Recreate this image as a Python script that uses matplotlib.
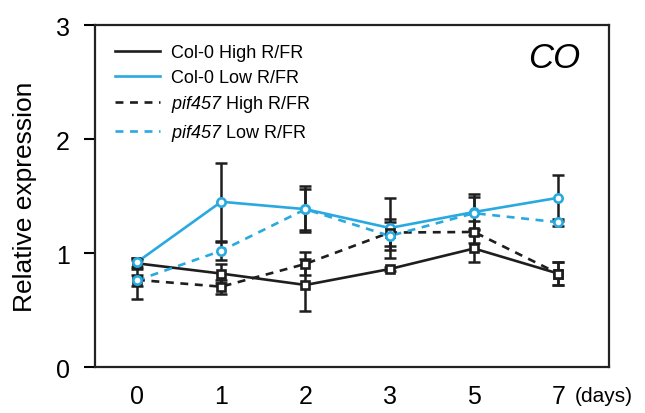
import matplotlib.pyplot as plt
import numpy as np

plt.rcParams['font.family'] = ['Liberation Sans', 'DejaVu Sans']
plt.rcParams['mathtext.fontset'] = 'custom'
plt.rcParams['mathtext.it'] = 'Liberation Sans:italic'
plt.rcParams['mathtext.rm'] = 'Liberation Sans:italic'

days = ['0', '1', '2', '3', '5', '7']

col_high = [0.91, 0.82, 0.72, 0.86, 1.04, 0.82]
col_high_err = [0.05, 0.08, 0.23, 0.02, 0.12, 0.10]
col_low = [0.92, 1.45, 1.385, 1.22, 1.36, 1.485]
col_low_err = [0.04, 0.34, 0.20, 0.26, 0.16, 0.20]
pif_high = [0.765, 0.705, 0.905, 1.18, 1.185, 0.82]
pif_high_err = [0.17, 0.06, 0.10, 0.12, 0.10, 0.10]
pif_low = [0.76, 1.02, 1.385, 1.15, 1.35, 1.27]
pif_low_err = [0.05, 0.08, 0.18, 0.12, 0.14, 0.03]

blue = '#29a9e0'
dark = '#1e1e1e'

fig = plt.figure(figsize=(6.45, 4.14), dpi=100)
ax = fig.add_axes([0.147, 0.111, 0.797, 0.826])
x = np.arange(len(days))

series = [
    (col_high, col_high_err, dark, '-', 's', 'Col-0 High R/FR'),
    (col_low, col_low_err, blue, '-', 'o', 'Col-0 Low R/FR'),
    (pif_high, pif_high_err, dark, (0, (3, 2.5)), 's', r'$pif457$ High R/FR'),
    (pif_low, pif_low_err, blue, (0, (3, 2.5)), 'o', r'$pif457$ Low R/FR'),
]

# error bars first (all black), then lines with markers on top
for vals, err, c, ls, m, lab in series:
    ax.errorbar(x, vals, yerr=err, fmt='none', ecolor=dark, elinewidth=1.8,
                capsize=4, capthick=1.8, zorder=2)

handles = []
for vals, err, c, ls, m, lab in series:
    ax.plot(x, vals, color=c, linestyle=ls, linewidth=1.9, zorder=3)
    ax.plot(x, vals, linestyle='none', marker=m, markersize=6,
            markerfacecolor='white', markeredgecolor=c, markeredgewidth=1.9, zorder=4)
    h, = ax.plot([], [], color=c, linestyle=ls, linewidth=1.9, label=lab)
    handles.append(h)

ax.set_xlim(-0.5, 5.6)
ax.set_ylim(0, 3)
ax.set_yticks([0, 1, 2, 3])
ax.set_xticks(x)
ax.set_xticklabels(days)
ax.tick_params(axis='y', direction='out', length=8, width=1.5, labelsize=18, pad=10)
ax.tick_params(axis='x', length=0, labelsize=18, pad=12)
for s in ax.spines.values():
    s.set_linewidth(1.6)
    s.set_color('#222222')

ax.set_ylabel('Relative expression', fontsize=19)
ax.yaxis.set_label_coords(-0.113, 0.5)

ax.text(5.2, -0.055, '(days)', transform=ax.get_xaxis_transform(),
        fontsize=15, ha='left', va='top')
ax.text(0.944, 0.904, 'CO', transform=ax.transAxes, fontsize=25,
        style='italic', ha='right', va='center')

ax.legend(handles=handles, loc='upper left', frameon=False, fontsize=13,
          handlelength=2.5, handletextpad=0.6, labelspacing=0.42,
          borderaxespad=0.0, bbox_to_anchor=(0.025, 0.965))

fig.savefig('out.png', dpi=100)
